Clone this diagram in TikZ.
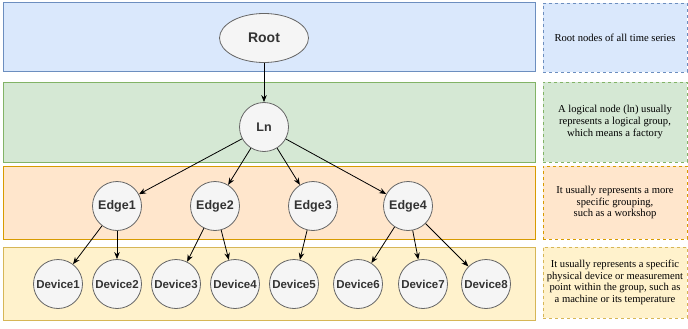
\documentclass[tikz,border=0pt]{standalone}
\usepackage{fontspec}
\setmainfont{Liberation Serif}
\setsansfont{Liberation Sans}
\usetikzlibrary{arrows.meta, shapes.geometric}

\definecolor{bluefill}{HTML}{DAE8FC}
\definecolor{blueline}{HTML}{6C8EBF}
\definecolor{greenfill}{HTML}{D5E8D4}
\definecolor{greenline}{HTML}{82B366}
\definecolor{orangefill}{HTML}{FFE6CC}
\definecolor{orangeline}{HTML}{D79B00}
\definecolor{yellowfill}{HTML}{FFF2CC}
\definecolor{yellowline}{HTML}{D6B656}
\definecolor{nodefill}{HTML}{F5F5F5}
\definecolor{nodeline}{HTML}{666666}
\definecolor{nodetext}{HTML}{333333}

\begin{document}
\begin{tikzpicture}[x=1pt,y=-1pt,
    band/.style={draw=#1line, fill=#1fill, line width=1pt},
    note/.style={draw=#1line, fill=#1fill, line width=0.8pt,
      dash pattern=on 3pt off 3pt, minimum width=144pt,
      align=center, font=\fontsize{10.6}{11.7}\selectfont, text=black},
    tnode/.style={circle, draw=nodeline, fill=nodefill, line width=0.8pt,
      minimum size=49pt, inner sep=0pt, text=nodetext,
      font=\sffamily\bfseries\fontsize{12.5}{14}\selectfont},
    dnode/.style={tnode, font=\sffamily\bfseries\fontsize{11.5}{13}\selectfont},
    arr/.style={-{Stealth[length=7pt,width=5.5pt]}, line width=0.8pt}
  ]
  \useasboundingbox (0,0) rectangle (688,329);

  % layers
  \draw[band=blue]   (3,3)     rectangle (535,72);
  \draw[band=green]  (3,82)    rectangle (535,162);
  \draw[band=orange] (3,166)   rectangle (535,239);
  \draw[band=yellow] (3,247)   rectangle (535,320);

  % notes
  \node[note=blue,   minimum height=69pt] (n1) at (615,37.5)
    {Root nodes of all time series};
  \node[note=green,  minimum height=80pt] (n2) at (615,122)
    {A logical node (ln) usually\\ represents a logical group,\\ which means a factory};
  \node[note=orange, minimum height=73pt] (n3) at (615,202.5)
    {It usually represents a more\\ specific grouping,\\ such as a workshop};
  \node[note=yellow, minimum height=71pt] (n4) at (615,282.5)
    {It usually represents a specific\\ physical device or measurement\\ point within the group, such as\\ a machine or its temperature};

  % tree
  \node[ellipse, draw=nodeline, fill=nodefill, line width=0.8pt,
    minimum width=89pt, minimum height=49pt, text=nodetext,
    font=\sffamily\bfseries\fontsize{14}{16}\selectfont] (root) at (264,38) {Root};
  \node[tnode] (ln) at (264,127) {Ln};

  \node[tnode] (e1) at (117,206) {Edge1};
  \node[tnode] (e2) at (215,206) {Edge2};
  \node[tnode] (e3) at (313,206) {Edge3};
  \node[tnode] (e4) at (408,206) {Edge4};

  \node[dnode] (d1) at (58,284)  {Device1};
  \node[dnode] (d2) at (117,284) {Device2};
  \node[dnode] (d3) at (176,284) {Device3};
  \node[dnode] (d4) at (235,284) {Device4};
  \node[dnode] (d5) at (294,284) {Device5};
  \node[dnode] (d6) at (358,284) {Device6};
  \node[dnode] (d7) at (423,284) {Device7};
  \node[dnode] (d8) at (486,284) {Device8};

  \draw[arr] (root) -- (ln);
  \foreach \e in {e1,e2,e3,e4}
    \draw[arr] (ln) -- (\e);

  \draw[arr] (e1) -- (d1);
  \draw[arr] (e1) -- (d2);
  \draw[arr] (e2) -- (d3);
  \draw[arr] (e2) -- (d4);
  \draw[arr] (e3) -- (d5);
  \draw[arr] (e4) -- (d6);
  \draw[arr] (e4) -- (d7);
  \draw[arr] (e4) -- (d8);

\end{tikzpicture}
\end{document}
